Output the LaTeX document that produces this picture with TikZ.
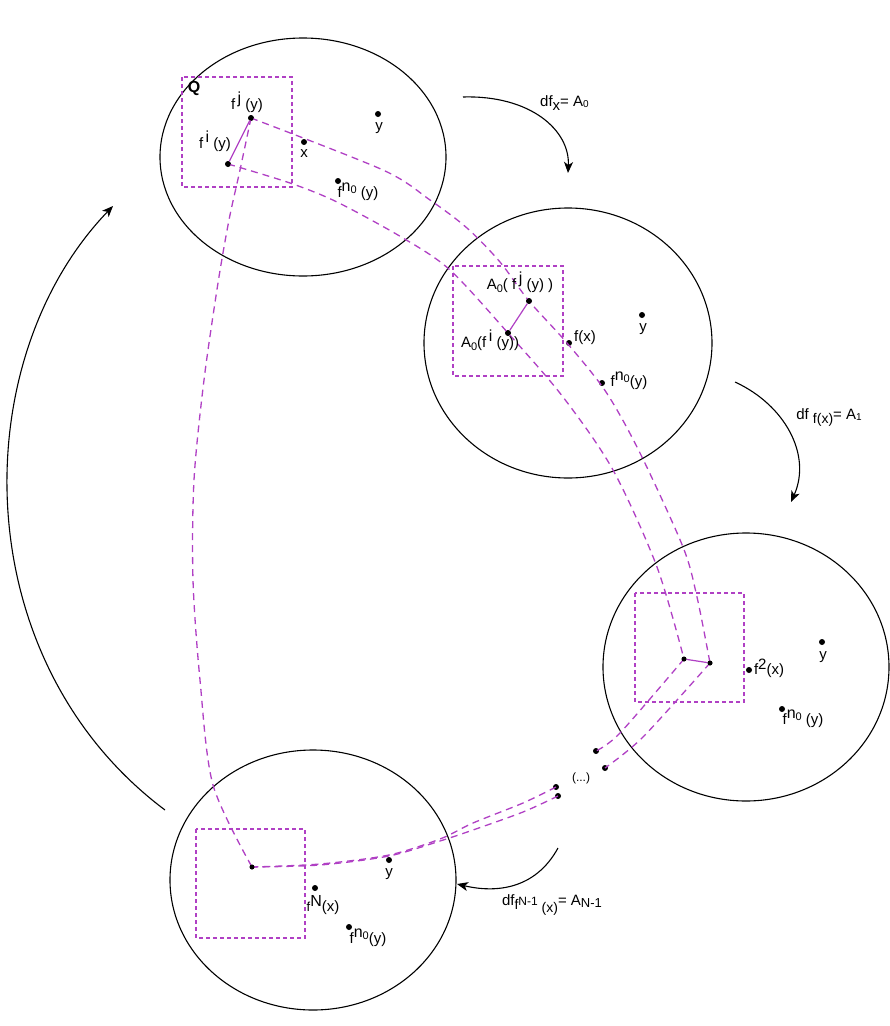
\documentclass[tikz,border=0pt]{standalone}
\usepackage{fontspec}
\setmainfont{Liberation Sans}
\usetikzlibrary{arrows.meta}
\definecolor{mag}{RGB}{176,64,196}
\newcommand{\fs}[1]{\fontsize{#1}{#1}\selectfont}
\newcommand{\hi}[2][5pt]{\raisebox{#1}{#2}}
\newcommand{\lo}[2][-3pt]{\raisebox{#1}{#2}}
\begin{document}
\begin{tikzpicture}[x=1pt,y=-1pt,
  blob/.style={draw=black,line width=1.1pt},
  qbox/.style={draw=mag,line width=1.1pt,dash pattern=on 4pt off 3pt},
  orbit/.style={draw=mag,line width=1.3pt,dash pattern=on 7pt off 5pt},
  seg/.style={draw=mag,line width=1.2pt},
  blackdot/.style={circle,fill=black,inner sep=0pt,minimum size=6pt},
  pdot/.style={circle,fill=black,inner sep=0pt,minimum size=4.5pt},
  lbl/.style={inner sep=0pt,font=\fs{15}},
  flow/.style={draw=black,line width=1.1pt,-{Stealth[length=11pt,width=9pt,inset=3pt]}}
]
\useasboundingbox (0,0) rectangle (890,1026);

% big circles
\draw[blob] (303,157) ellipse [x radius=143pt, y radius=119pt];
\draw[blob] (568,343) ellipse [x radius=144pt, y radius=135pt];
\draw[blob] (746,667) ellipse [x radius=143pt, y radius=134pt];
\draw[blob] (313,880) ellipse [x radius=143pt, y radius=130pt];

% dashed boxes
\draw[qbox] (182,77) rectangle (292,187);
\draw[qbox] (453,266) rectangle (563,376);
\draw[qbox] (635,593) rectangle (744,702);
\draw[qbox] (196,829) rectangle (305,938);

% points
\node[blackdot] (fj) at (251,118) {};
\node[blackdot] (fi) at (228,164) {};
\node[blackdot] (x0) at (304,142) {};
\node[blackdot] (y1) at (378,114) {};
\node[blackdot] (n1) at (338,181) {};
\node[blackdot] (aj) at (529,301) {};
\node[blackdot] (ai) at (508,333) {};
\node[blackdot] (fx) at (569,343) {};
\node[blackdot] (y2) at (642,315) {};
\node[blackdot] (n2) at (602,383) {};
\node[pdot] (bi) at (684,659) {};
\node[pdot] (bj) at (710,663) {};
\node[blackdot] (f2) at (749,670) {};
\node[blackdot] (y3) at (822,642) {};
\node[blackdot] (n3) at (782,709) {};
\node[blackdot] (d1) at (596,751) {};
\node[blackdot] (d2) at (605,768) {};
\node[blackdot] (d3) at (556,787) {};
\node[blackdot] (d4) at (558,796) {};
\node[pdot] (p4) at (252,867) {};
\node[blackdot] (y4) at (389,860) {};
\node[blackdot] (fN) at (315,888) {};
\node[blackdot] (n4) at (349,927) {};

% dashed orbits
\draw[orbit] plot[smooth] coordinates {(fi) (290,183) (337,202) (403,238) (450,270) (ai) (563,397) (613,470) (657,567) (bi)};
\draw[orbit] plot[smooth] coordinates {(fj) (383,170) (430,200) (467,228) (500,262) (aj) (567,343) (606,392) (640,453) (683,547) (697,597) (bj)};
\draw[orbit] plot[smooth] coordinates {(fj) (240,170) (229,220) (218,283) (204,380) (194,480) (193,580) (200,680) (213,785) (p4)};
\draw[orbit] plot[smooth] coordinates {(bi) (620,733) (d1)};
\draw[orbit] plot[smooth] coordinates {(bj) (643,737) (d2)};
\draw[orbit] plot[smooth] coordinates {(d3) (523,803) (473,823) (440,839) (389,855) (320,864) (p4)};
\draw[orbit] plot[smooth] coordinates {(d4) (523,812) (473,830) (440,841) (389,856) (320,865) (p4)};

% solid segments
\draw[seg] (fi) -- (fj);
\draw[seg] (ai) -- (aj);
\draw[seg] (bi) -- (bj);

% redraw dots on top
\foreach \n in {fj,fi,aj,ai,bi,bj,p4}{\fill (\n) circle (2.5pt);}

% arrows
\coordinate (a1s) at (463,97);  \coordinate (a1e) at (568,173);
\coordinate (a2s) at (735,382); \coordinate (a2e) at (791,502);
\coordinate (a3s) at (558,848); \coordinate (a3e) at (457,884);
\coordinate (a4s) at (165,810); \coordinate (a4e) at (113,206);
\draw[flow] (a1s) .. controls (530,95) and (570,130) .. (a1e);
\draw[flow] (a2s) .. controls (785,405) and (812,455) .. (a2e);
\draw[flow] (a3s) .. controls (535,890) and (495,893) .. (a3e);
\draw[flow] (a4s) .. controls (-35,660) and (-35,360) .. (a4e);

% labels
\node[lbl,font=\bfseries\fs{16}] (lq) at (194,88) {Q};
\node[lbl] (lfj) at (247,102) {f\,\hi[6pt]{\fs{16}j} (y)};
\node[lbl] (lfi) at (215,141) {f\,\hi[6pt]{\fs{16}i} (y)};
\node[lbl] (lx) at (304,154) {x};
\node[lbl] (ly1) at (379,128) {y};
\node[lbl] (ln1) at (358,192) {f\hi[6pt]{\fs{16}n\lo[-2pt]{\fs{11}0}} (y)};
\node[lbl,anchor=west] (ldf1) at (540,103) {df\lo[-4pt]{x}= A\lo[-1pt]{\fs{10}0}};
\node[lbl] (laj) at (520,282) {A\lo{\fs{11}0}( f\,\hi[6pt]{\fs{16}j} (y) )};
\node[lbl] (lai) at (490,340) {A\lo{\fs{11}0}(f\,\hi[6pt]{\fs{16}i} (y))};
\node[lbl] (lfx) at (585,338) {f(x)};
\node[lbl] (ly2) at (643,329) {y};
\node[lbl] (ln2) at (629,381) {f\hi[6pt]{\fs{16}n\lo[-2pt]{\fs{11}0}}(y)};
\node[lbl] (ldf2) at (829,418) {df \lo[-4pt]{\fs{14}f(x)}= A\lo[-1pt]{\fs{10}1}};
\node[lbl] (lf2) at (769,668) {f\hi{\fs{15}2}(x)};
\node[lbl] (ly3) at (823,657) {y};
\node[lbl] (ln3) at (803,719) {f\hi[6pt]{\fs{16}n\lo[-2pt]{\fs{11}0}} (y)};
\node[lbl,font=\fs{12}] (ldots) at (581,778) {(...)};
\node[lbl] (ly4) at (389,874) {y};
\node[lbl] (lfN) at (323,905) {\fs{13}f\hi[5pt]{\fs{16}N}\fs{15}(x)};
\node[lbl] (ln4) at (368,938) {f\hi[6pt]{\fs{16}n\lo[-2pt]{\fs{11}0}}(y)};
\node[lbl] (ldf3) at (552,905) {df\lo[-4pt]{\fs{14}f\hi[4pt]{\fs{12}N-1} \lo[-3pt]{(x)}}= A\lo[-2pt]{\fs{13}N-1}};
\end{tikzpicture}
\end{document}
